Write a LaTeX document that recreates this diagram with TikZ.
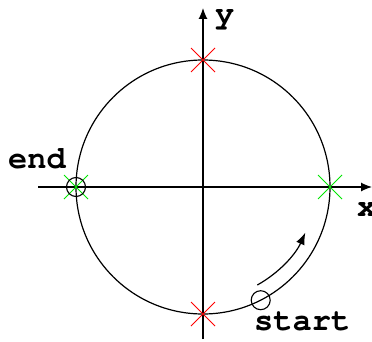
\documentclass[tikz,border=0pt]{standalone}
\usepackage[T1]{fontenc}
\renewcommand{\ttdefault}{pcr}
\usetikzlibrary{arrows.meta}
\definecolor{xgreen}{RGB}{0,230,0}
\definecolor{xred}{RGB}{255,0,0}
\tikzset{
  lbl/.style={inner sep=0pt, anchor=base west, font=\fontsize{32}{32}\selectfont\ttfamily\bfseries},
  axis/.style={line width=1.2pt, -{Latex[length=11pt,width=9pt]}},
  crossr/.style={xred, line width=1pt},
  crossg/.style={xgreen, line width=1pt},
  ring/.style={line width=1.1pt},
}
\begin{document}
\begin{tikzpicture}[x=1pt,y=1pt]
\useasboundingbox (0,0) rectangle (372,341);
\coordinate (O) at (203,154);
\coordinate (xl) at (38,154);
\coordinate (xr) at (372,154);
\coordinate (yb) at (203,2);
\coordinate (yt) at (203,333);
\coordinate (top) at (203,281);
\coordinate (bot) at (203,27);
\coordinate (lft) at (76,154);
\coordinate (rgt) at (330,154);
\coordinate (st) at (260.7,40.8);
\coordinate (arcs) at (257.3,56);
% circle
\draw[line width=1.2pt] (O) circle[radius=127];
% axes
\draw[axis] (xl) -- (xr);
\draw[axis] (yb) -- (yt);
% crosses
\draw[crossr] ([shift={(-12,-12)}]top) -- ([shift={(12,12)}]top) ([shift={(-12,12)}]top) -- ([shift={(12,-12)}]top);
\draw[crossr] ([shift={(-12,-12)}]bot) -- ([shift={(12,12)}]bot) ([shift={(-12,12)}]bot) -- ([shift={(12,-12)}]bot);
\draw[crossg] ([shift={(-12,-12)}]lft) -- ([shift={(12,12)}]lft) ([shift={(-12,12)}]lft) -- ([shift={(12,-12)}]lft);
\draw[crossg] ([shift={(-12,-12)}]rgt) -- ([shift={(12,12)}]rgt) ([shift={(-12,12)}]rgt) -- ([shift={(12,-12)}]rgt);
% markers
\draw[ring] (lft) circle[radius=9.5];
\draw[ring] (st) circle[radius=9.5];
% direction arrow
\draw[line width=1.2pt, -{Latex[length=12pt,width=9pt]}] (arcs) arc[start angle=-61, end angle=-24, radius=112];
% labels
\node[lbl] (ylab) at (215,317) {y};
\node[lbl] (xlab) at (357,125) {x};
\node[lbl] (endlab) at (8,173) {end};
\node[lbl] (startlab) at (254,11) {start};
\end{tikzpicture}
\end{document}
